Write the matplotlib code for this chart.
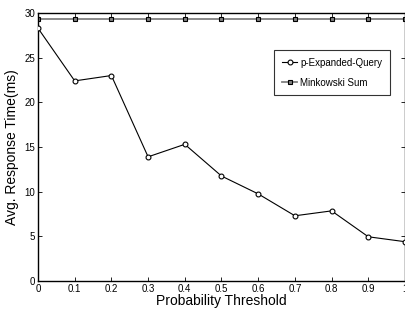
import matplotlib
matplotlib.use("Agg")
import matplotlib.pyplot as plt

thresholds = [0, 0.1, 0.2, 0.3, 0.4, 0.5, 0.6, 0.7, 0.8, 0.9, 1.0]
p_expanded = [28.3, 22.4, 23.0, 13.9, 15.3, 11.75, 9.75, 7.3, 7.85, 4.95, 4.4]
minkowski = [29.3] * 11
x_ticks = [0, 0.1, 0.2, 0.3, 0.4, 0.5, 0.6, 0.7, 0.8, 0.9, 1]
x_ticklabels = ["0", "0.1", "0.2", "0.3", "0.4", "0.5", "0.6", "0.7", "0.8", "0.9", "1"]
y_ticks = [0, 5, 10, 15, 20, 25, 30]

plt.rcParams['font.family'] = ['Liberation Sans', 'DejaVu Sans']

fig = plt.figure(figsize=(4.06, 3.14), dpi=100)
ax = fig.add_axes([38/406, 1 - 281/314, (405 - 38)/406, (281 - 13)/314])

ax.plot(thresholds, minkowski, color='#808080', linewidth=1.3, marker='s',
        markersize=3, markerfacecolor='#808080', markeredgecolor='black',
        markeredgewidth=0.8, label='Minkowski Sum', zorder=2)
ax.plot(thresholds, p_expanded, color='black', linewidth=0.8, marker='o',
        markersize=3.5, markerfacecolor='white', markeredgecolor='black',
        markeredgewidth=0.8, label='p-Expanded-Query', zorder=3)

ax.set_xlim(0, 1)
ax.set_ylim(0, 30)
ax.set_xticks(x_ticks)
ax.set_xticklabels(x_ticklabels)
ax.set_yticks(y_ticks)
ax.tick_params(direction='in', top=True, right=True, labelsize=7, length=3,
               width=0.6, pad=2)
for s in ax.spines.values():
    s.set_linewidth(1.0)

ax.set_xlabel('Probability Threshold', fontsize=10, labelpad=0)
ax.set_ylabel('Avg. Response Time(ms)', fontsize=10, labelpad=4)

handles, labels = ax.get_legend_handles_labels()
leg = ax.legend(handles[::-1], labels[::-1], loc='upper left',
                bbox_to_anchor=((274 - 38)/367, 1 - (50 - 13)/268),
                fontsize=7, frameon=True, fancybox=False, handlelength=1.6,
                handletextpad=0.3, borderpad=0.8, labelspacing=1.0,
                borderaxespad=0)
leg.get_frame().set_edgecolor('black')
leg.get_frame().set_linewidth(0.8)

fig.savefig('out.png', dpi=100)
